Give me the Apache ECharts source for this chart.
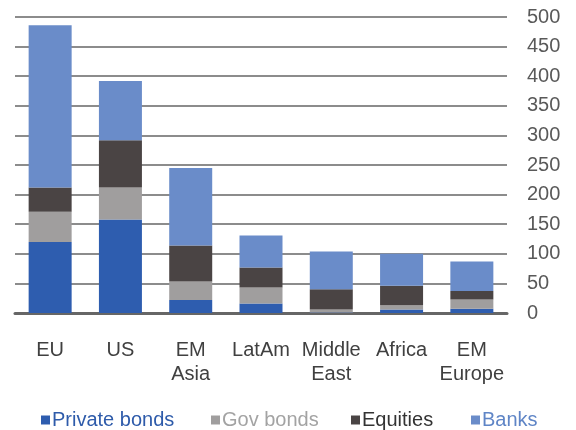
<!DOCTYPE html>
<html>
<head>
<meta charset="utf-8">
<script src="https://cdn.jsdelivr.net/npm/echarts@6/dist/echarts.min.js"></script>
<style>html,body{margin:0;padding:0;background:#fff}#c{width:576px;height:430px}</style>
</head>
<body>
<div id="c"></div>
<script>
var categories = ['EU', 'US', 'EM\nAsia', 'LatAm', 'Middle\nEast', 'Africa', 'EM\nEurope'];
var privateBonds = [120, 158, 22, 16, 1, 6, 7];
var govBonds = [51, 54, 31, 27, 5, 7, 16];
var equities = [41, 80, 61, 34, 34, 33, 14];
var banks = [274, 100, 131, 54, 64, 54, 50];
var yTicks = [0, 50, 100, 150, 200, 250, 300, 350, 400, 450, 500];
var seriesNames = ['Private bonds', 'Gov bonds', 'Equities', 'Banks'];
var colors = ['#2E5DAF', '#A09E9E', '#4A4444', '#6A8CC9'];
var textColors = ['#2E5BAA', '#A3A3A3', '#333333', '#5F85C6'];
var legendLefts = [41, 211, 351, 471];

var FONT = '"Liberation Sans", Arial, sans-serif';
var chart = echarts.init(document.getElementById('c'), null, {renderer: 'canvas'});
var dataSets = [privateBonds, govBonds, equities, banks];

var legends = seriesNames.map(function (n, i) {
  return {
    left: legendLefts[i], top: 410,
    data: [{name: n, textStyle: {color: textColors[i]}}],
    icon: 'rect', itemWidth: 9, itemHeight: 9, itemGap: 0,
    padding: 0,
    textStyle: {fontFamily: FONT, fontSize: 20, padding: [0, 0, 0, -3]},
    selectedMode: false
  };
});

chart.setOption({
  animation: false,
  legend: legends,
  grid: {left: 15, right: 69, top: 17, bottom: 117},
  xAxis: {
    type: 'category',
    data: categories,
    axisLine: {show: true, lineStyle: {color: '#666666', width: 3}},
    axisTick: {show: false},
    axisLabel: {
      interval: 0, margin: 25, color: '#404040',
      fontFamily: FONT, fontSize: 20, lineHeight: 24
    }
  },
  yAxis: {
    type: 'value', position: 'right',
    min: yTicks[0], max: yTicks[yTicks.length - 1], interval: 50,
    axisLine: {show: false}, axisTick: {show: false},
    splitLine: {lineStyle: {color: '#8C8C8C', width: 2}},
    axisLabel: {margin: 20, color: '#595959', fontFamily: FONT, fontSize: 20}
  },
  series: seriesNames.map(function (n, i) {
    return {
      name: n, type: 'bar', stack: 'total',
      data: dataSets[i], barWidth: 43,
      itemStyle: {color: colors[i]}
    };
  })
});
</script>
</body>
</html>
